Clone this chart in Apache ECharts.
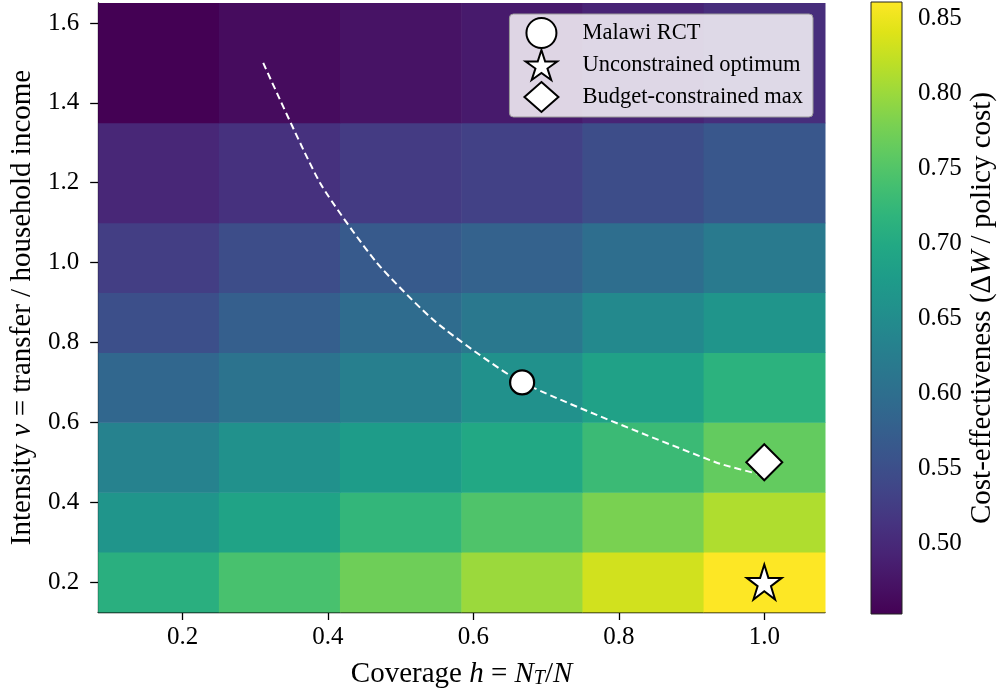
<!DOCTYPE html>
<html>
<head>
<meta charset="utf-8">
<script src="https://cdn.jsdelivr.net/npm/echarts@6/dist/echarts.min.js"></script>
<style>html,body{margin:0;padding:0;background:#fff}#c{width:1002px;height:694px}</style>
</head>
<body>
<div id="c"></div>
<script>
// ---- data ----
const COVERAGE = [0.167, 0.333, 0.5, 0.667, 0.833, 1.0];
const INTENSITY = [0.2, 0.35, 0.5, 0.7, 0.85, 1.0, 1.2, 1.5];
// rows follow INTENSITY, columns follow COVERAGE
const CE = [
  [0.710, 0.742, 0.771, 0.800, 0.832, 0.861],
  [0.665, 0.690, 0.722, 0.747, 0.779, 0.812],
  [0.633, 0.657, 0.677, 0.698, 0.730, 0.763],
  [0.588, 0.608, 0.628, 0.657, 0.686, 0.714],
  [0.551, 0.576, 0.596, 0.616, 0.645, 0.665],
  [0.527, 0.547, 0.567, 0.580, 0.600, 0.620],
  [0.498, 0.510, 0.523, 0.531, 0.547, 0.563],
  [0.453, 0.465, 0.474, 0.482, 0.494, 0.506]
];
const BUDGET_H = [0.311, 0.389, 0.467, 0.549, 0.667, 0.933, 1.0];
const BUDGET_V = [1.5, 1.2, 1.0, 0.85, 0.7, 0.5, 0.467];
const MALAWI = [0.667, 0.7];
const UNCONSTRAINED = [1.0, 0.2];
const BUDGET_MAX = [1.0, 0.5];
const X_TICKS = [0.2, 0.4, 0.6, 0.8, 1.0];
const Y_TICKS = [0.2, 0.4, 0.6, 0.8, 1.0, 1.2, 1.4, 1.6];
const CB_TICKS = [0.50, 0.55, 0.60, 0.65, 0.70, 0.75, 0.80, 0.85];

const VIRIDIS = ['#440154','#471365','#482475','#463480','#414487','#3b528b','#355f8d','#2f6c8e','#2a788e','#25848e','#21918c','#1e9c89','#22a884','#2fb47c','#44bf70','#5ec962','#7ad151','#9bd93c','#bddf26','#dfe318','#fde725'];
const FONT = 'Liberation Serif';
const STAR = 'path://M0,-1 L0.2245,-0.309 L0.951,-0.309 L0.363,0.118 L0.588,0.809 L0,0.382 L-0.588,0.809 L-0.363,0.118 L-0.951,-0.309 L-0.2245,-0.309 Z';

function edges(c) {
  const n = c.length, e = [c[0] - (c[1] - c[0]) / 2];
  for (let i = 0; i < n - 1; i++) e.push((c[i] + c[i + 1]) / 2);
  e.push(c[n - 1] + (c[n - 1] - c[n - 2]) / 2);
  return e;
}
const XE = edges(COVERAGE), YE = edges(INTENSITY);
const cells = [];
INTENSITY.forEach((v, r) => COVERAGE.forEach((h, c) => {
  cells.push([XE[c], XE[c + 1], YE[r], YE[r + 1], CE[r][c]]);
}));
const allVals = CE.flat();
const CB_MIN = Math.min(...allVals), CB_MAX = Math.max(...allVals);

const TICK_FS = 25, TITLE_FS = 29;
const chart = echarts.init(document.getElementById('c'), null, {renderer: 'canvas'});
const axisCommon = {
  axisLine: {show: true, lineStyle: {color: '#000', width: 1.3}},
  axisTick: {show: true, inside: false, length: 8, lineStyle: {color: '#000', width: 1.3}},
  splitLine: {show: false},
};
const txt = {fontFamily: FONT, color: '#000'};
const italic = Object.assign({}, txt, {fontSize: TITLE_FS, fontStyle: 'italic'});

chart.setOption({
  animation: false,
  backgroundColor: '#fff',
  grid: [
    {left: 98, right: 177, top: 3, bottom: 81},
    {left: 871, width: 31, top: 2, bottom: 80}
  ],
  xAxis: [
    Object.assign({}, axisCommon, {
      type: 'value', gridIndex: 0, min: XE[0], max: XE[XE.length - 1],
      axisTick: Object.assign({}, axisCommon.axisTick, {customValues: X_TICKS}),
      axisLabel: Object.assign({}, txt, {fontSize: TICK_FS, margin: 13, customValues: X_TICKS, formatter: v => v.toFixed(1)}),
      name: 'Coverage {i|h} = {i|N}{s|T}/{i|N}',
      nameLocation: 'middle', nameGap: 48,
      nameTextStyle: Object.assign({}, txt, {fontSize: TITLE_FS,
        rich: {i: italic,
               s: Object.assign({}, txt, {fontSize: 20, fontStyle: 'italic', verticalAlign: 'bottom', padding: [9, 0, 0, 0]})}})
    }),
    {type: 'value', gridIndex: 1, min: 0, max: 1, show: false}
  ],
  yAxis: [
    Object.assign({}, axisCommon, {
      type: 'value', gridIndex: 0, min: YE[0], max: YE[YE.length - 1],
      axisTick: Object.assign({}, axisCommon.axisTick, {customValues: Y_TICKS}),
      axisLabel: Object.assign({}, txt, {fontSize: TICK_FS, margin: 19, customValues: Y_TICKS, formatter: v => v.toFixed(1)}),
      name: 'Intensity {i|ν} = transfer / household income',
      nameLocation: 'middle', nameGap: 56, nameRotate: 90,
      nameTextStyle: Object.assign({}, txt, {fontSize: TITLE_FS, rich: {i: italic}})
    }),
    {
      type: 'value', gridIndex: 1, position: 'right', min: CB_MIN, max: CB_MAX,
      axisLine: {show: false},
      splitLine: {show: false},
      axisTick: {show: true, inside: false, length: 8, customValues: CB_TICKS, lineStyle: {color: '#000', width: 1.3}},
      axisLabel: Object.assign({}, txt, {fontSize: TICK_FS, margin: 16, customValues: CB_TICKS, formatter: v => v.toFixed(2)}),
      name: 'Cost-effectiveness (Δ{i|W} / policy cost)',
      nameLocation: 'middle', nameGap: 66, nameRotate: 90,
      nameTextStyle: Object.assign({}, txt, {fontSize: TITLE_FS, rich: {i: italic}})
    }
  ],
  visualMap: {
    type: 'continuous', show: false, min: CB_MIN, max: CB_MAX,
    dimension: 4, seriesIndex: 0, inRange: {color: VIRIDIS}
  },
  legend: {
    orient: 'vertical', align: 'left', top: 14, right: 189,
    padding: [3, 10, 4, 14], itemGap: 0, itemWidth: 34, itemHeight: 30,
    backgroundColor: 'rgba(255,255,255,0.82)', borderColor: '#9a9a9a', borderWidth: 1, borderRadius: 4,
    textStyle: Object.assign({}, txt, {fontSize: 22.5, padding: [0, 0, 0, 19]}),
    data: ['Malawi RCT', 'Unconstrained optimum', 'Budget-constrained max']
  },
  series: [
    {
      type: 'custom', xAxisIndex: 0, yAxisIndex: 0, silent: true,
      encode: {x: [0, 1], y: [2, 3]},
      data: cells,
      renderItem: function (params, api) {
        const p1 = api.coord([api.value(0), api.value(3)]);
        const p2 = api.coord([api.value(1), api.value(2)]);
        const c = api.visual('color');
        return {type: 'rect', shape: {x: p1[0], y: p1[1], width: p2[0] - p1[0] + 0.5, height: p2[1] - p1[1] + 0.5},
          style: {fill: c, stroke: null}};
      },
      z: 1
    },
    {
      type: 'line', xAxisIndex: 0, yAxisIndex: 0, silent: true,
      data: BUDGET_H.map((h, i) => [h, BUDGET_V[i]]),
      showSymbol: false, symbol: 'none', smooth: 0.2,
      lineStyle: {color: '#fff', width: 2, type: [7, 4]},
      z: 3
    },
    {
      name: 'Malawi RCT', type: 'scatter', xAxisIndex: 0, yAxisIndex: 0,
      data: [MALAWI], symbol: 'circle', symbolSize: 24,
      itemStyle: {color: '#fff', borderColor: '#000', borderWidth: 2.2, opacity: 1}, z: 5
    },
    {
      name: 'Unconstrained optimum', type: 'scatter', xAxisIndex: 0, yAxisIndex: 0,
      data: [UNCONSTRAINED], symbol: STAR, symbolSize: 35,
      itemStyle: {color: '#fff', borderColor: '#000', borderWidth: 2, opacity: 1}, z: 5
    },
    {
      name: 'Budget-constrained max', type: 'scatter', xAxisIndex: 0, yAxisIndex: 0,
      data: [BUDGET_MAX], symbol: 'diamond', symbolSize: 36,
      itemStyle: {color: '#fff', borderColor: '#000', borderWidth: 2, opacity: 1}, z: 5
    },
    {
      type: 'custom', xAxisIndex: 1, yAxisIndex: 1, silent: true,
      data: [[0, 1, CB_MIN, CB_MAX]],
      renderItem: function (params, api) {
        const p1 = api.coord([api.value(0), api.value(3)]);
        const p2 = api.coord([api.value(1), api.value(2)]);
        const stops = VIRIDIS.map((c, i) => ({offset: i / (VIRIDIS.length - 1), color: c}));
        return {type: 'rect', shape: {x: p1[0], y: p1[1], width: p2[0] - p1[0], height: p2[1] - p1[1]},
          style: {fill: new echarts.graphic.LinearGradient(0, 1, 0, 0, stops), stroke: '#222', lineWidth: 1}};
      }
    }
  ]
});
</script>
</body>
</html>
